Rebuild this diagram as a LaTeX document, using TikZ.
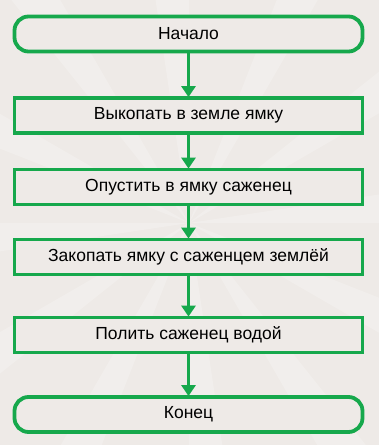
\documentclass[tikz,border=0pt]{standalone}
\usepackage{fontspec}
\setmainfont{Liberation Sans}
\usetikzlibrary{arrows.meta}
\definecolor{bg}{HTML}{EEEAE7}
\definecolor{bgl}{HTML}{F5F3F1}
\definecolor{grn}{HTML}{16A84C}
\tikzset{
  stepbox/.style={draw=grn, line width=3.8pt, fill=bg, minimum width=348pt, minimum height=35pt, inner sep=0pt, font=\fontsize{17.5}{20}\selectfont},
  termbox/.style={stepbox, rounded corners=14pt},
  conn/.style={draw=grn, line width=3.8pt, -{Triangle[width=14pt,length=11pt]}, shorten >=-1pt}
}
\begin{document}
\begin{tikzpicture}[x=1pt,y=1pt]
\fill[bg] (0,0) rectangle (379,445);
\useasboundingbox (0,0) rectangle (379,445);
\begin{scope}
\clip (0,0) rectangle (379,445);
\foreach \a in {0,30,...,330}{
  \fill[bgl, opacity=0.5] (189,222) -- ++(\a:400) -- ++(\a+90:60) -- cycle;
}
\end{scope}
\node[termbox] (s) at (188.5,445-34) {Начало};
\node[stepbox] (b1) at (188.5,445-115.5) {Выкопать в земле ямку};
\node[stepbox] (b2) at (188.5,445-187) {Опустить в ямку саженец};
\node[stepbox] (b3) at (188.5,445-257) {Закопать ямку с саженцем землёй};
\node[stepbox] (b4) at (188.5,445-335) {Полить саженец водой};
\node[termbox] (e) at (188.5,445-414.5) {Конец};
\draw[conn] (s) -- (b1);
\draw[conn] (b1) -- (b2);
\draw[conn] (b2) -- (b3);
\draw[conn] (b3) -- (b4);
\draw[conn] (b4) -- (e);
\end{tikzpicture}
\end{document}
